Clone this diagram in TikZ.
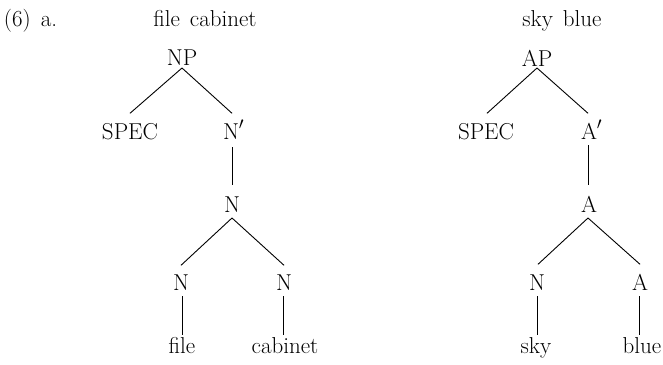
\documentclass[tikz,border=0pt]{standalone}
\usepackage{fontspec}
\begin{document}
\begin{tikzpicture}[x=1pt,y=-1pt,
  lbl/.style={anchor=base,inner sep=0pt,outer sep=0pt,text height=15.7pt,text depth=0pt,font=\fontsize{23}{27}\selectfont},
  word/.style={anchor=base,inner sep=0pt,outer sep=0pt,text height=16pt,text depth=0pt,font=\fontsize{23}{27}\selectfont},
  branch/.style={line width=0.9pt}]
\useasboundingbox (0,0) rectangle (663,364);

% example number and the two compounds
\node[word,anchor=base west] (ex) at (4,26) {(6)\hspace{10pt}a.};
\node[word] (t1) at (205,26) {file\hspace{3pt} cabinet};
\node[word] (t2) at (562,27) {sky\hspace{3pt} blue};

% tree for "file cabinet"
\node[lbl] (np)    at (182,65)  {NP};
\node[lbl] (spec1) at (130,139) {SPEC};
\node[lbl] (nbar)  at (231,139) {N\rlap{$'$}};
\node[lbl] (n0)    at (232,212) {N};
\node[lbl] (n1)    at (181,290) {N};
\node[lbl] (n2)    at (284,290) {N};
\node[word] (w1)   at (182,353) {file};
\node[word] (w2)   at (285,353) {cabinet};

\draw[branch] ([yshift=-3pt]np.south) -- ([yshift=10pt]spec1.north);
\draw[branch] ([yshift=-3pt]np.south) -- ([xshift=1pt,yshift=10pt]nbar.north);
\draw[branch] ([xshift=1pt,yshift=-8pt]nbar.south) -- ([yshift=11pt]n0.north);
\draw[branch] ([yshift=-6pt]n0.south) -- ([yshift=9pt]n1.north);
\draw[branch] ([yshift=-6pt]n0.south) -- ([yshift=9pt]n2.north);
\draw[branch] ([xshift=1pt,yshift=-6pt]n1.south) -- ([yshift=2pt]w1.north);
\draw[branch] ([xshift=-1pt,yshift=-6pt]n2.south) -- ([xshift=-2pt,yshift=2pt]w2.north);

% tree for "sky blue"
\node[lbl] (ap)    at (537,66)  {AP};
\node[lbl] (spec2) at (486,139) {SPEC};
\node[lbl] (abar)  at (589,139) {A\rlap{$'$}};
\node[lbl] (a0)    at (589,212) {A};
\node[lbl] (m1)    at (537,290) {N};
\node[lbl] (m2)    at (640,290) {A};
\node[word] (v1)   at (536,353) {sky};
\node[word] (v2)   at (642,353) {blue};

\draw[branch] ([yshift=-2pt]ap.south) -- ([xshift=1pt,yshift=10pt]spec2.north);
\draw[branch] ([yshift=-2pt]ap.south) -- ([xshift=-1pt,yshift=10pt]abar.north);
\draw[branch] ([xshift=-1pt,yshift=-6pt]abar.south) -- ([xshift=-1pt,yshift=11pt]a0.north);
\draw[branch] ([xshift=-1pt,yshift=-6pt]a0.south) -- ([xshift=1pt,yshift=10pt]m1.north);
\draw[branch] ([xshift=-1pt,yshift=-6pt]a0.south) -- ([yshift=10pt]m2.north);
\draw[branch] ([yshift=-6pt]m1.south) -- ([xshift=1pt,yshift=2pt]v1.north);
\draw[branch] ([xshift=-1pt,yshift=-6pt]m2.south) -- ([xshift=-3pt,yshift=2pt]v2.north);
\end{tikzpicture}
\end{document}
